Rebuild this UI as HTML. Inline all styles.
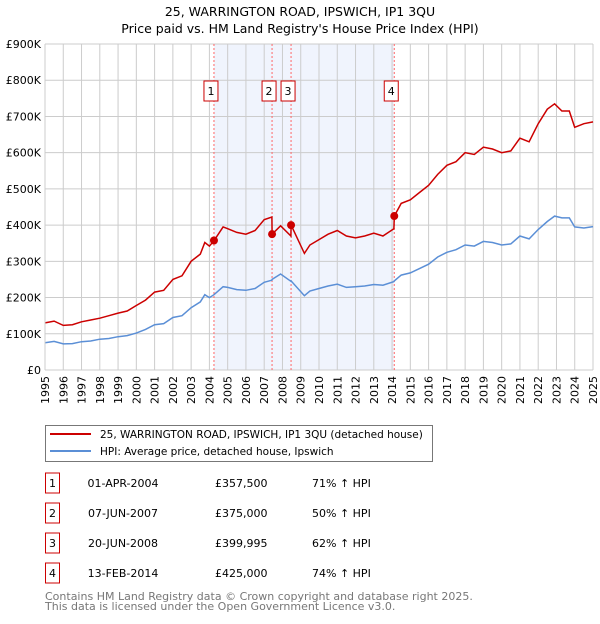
<!DOCTYPE html>
<html><head><meta charset="utf-8"><style>
body{margin:0;background:#fff;font-family:"DejaVu Sans","Liberation Sans",sans-serif;}
svg text{font-family:"DejaVu Sans","Liberation Sans",sans-serif;}
</style></head><body>
<svg id="chart" width="600" height="620" viewBox="0 0 600 620" xmlns="http://www.w3.org/2000/svg">
<text x="300" y="16" text-anchor="middle" font-size="12.5">25, WARRINGTON ROAD, IPSWICH, IP1 3QU</text>
<text x="300" y="33" text-anchor="middle" font-size="12.5">Price paid vs. HM Land Registry's House Price Index (HPI)</text>
<g id="plot"></g>
<g>
<rect x="45.5" y="425.5" width="387" height="36" fill="#fff" stroke="#777"/>
<line x1="50" y1="434" x2="91" y2="434" stroke="#cc0000" stroke-width="2"/>
<text x="100" y="438" font-size="10.5">25, WARRINGTON ROAD, IPSWICH, IP1 3QU (detached house)</text>
<line x1="50" y1="451" x2="91" y2="451" stroke="#5b8fd6" stroke-width="2"/>
<text x="100" y="455" font-size="10.5">HPI: Average price, detached house, Ipswich</text>
</g>
<g id="table"></g>
<text x="45" y="600" font-size="11" fill="#777">Contains HM Land Registry data © Crown copyright and database right 2025.</text>
<text x="45" y="610" font-size="11" fill="#777">This data is licensed under the Open Government Licence v3.0.</text>
</svg>
<script>
const times=[1995,1995.5,1996,1996.5,1997,1997.5,1998,1998.5,1999,1999.5,2000,2000.5,2001,2001.5,2002,2002.5,2003,2003.5,2003.75,2004,2004.25,2004.75,2005,2005.5,2006,2006.5,2007,2007.42,2007.43,2007.9,2008.46,2008.47,2009.2,2009.5,2010,2010.5,2011,2011.5,2012,2012.5,2013,2013.5,2014.1,2014.12,2014.5,2015,2015.5,2016,2016.5,2017,2017.5,2018,2018.5,2019,2019.5,2020,2020.5,2021,2021.5,2022,2022.5,2022.9,2023.3,2023.7,2024,2024.5,2025];
const redValues=[130,135,123,125,133,138,143,150,157,163,178,193,215,220,250,260,300,320,352,342,357,395,390,380,375,385,415,422,375,398,370,400,322,345,360,375,385,370,365,370,378,370,390,425,460,470,490,510,540,565,575,600,595,615,610,600,605,640,630,680,720,735,715,715,670,680,685];
const hpiValues=[75,79,72,73,78,80,85,87,92,95,102,112,125,128,145,150,172,188,208,200,208,230,228,222,220,225,242,248,250,265,245,246,205,218,225,232,237,228,230,232,236,234,244,246,262,268,280,292,312,325,332,345,342,355,352,345,348,370,362,388,410,425,420,420,395,392,396];
const yTicks=[0,100,200,300,400,500,600,700,800,900];
const yTickLabels=["£0","£100K","£200K","£300K","£400K","£500K","£600K","£700K","£800K","£900K"];
const saleNums=["1","2","3","4"];
const saleTimes=[2004.25,2007.43,2008.47,2014.12];
const salePrices=[357.5,375,399.995,425];
const saleDates=["01-APR-2004","07-JUN-2007","20-JUN-2008","13-FEB-2014"];
const salePriceLabels=["£357,500","£375,000","£399,995","£425,000"];
const salePct=["71% ↑ HPI","50% ↑ HPI","62% ↑ HPI","74% ↑ HPI"];

const NS="http://www.w3.org/2000/svg";
const X0=45,X1=593,Y0=370,Y1=44;
const xs=t=>X0+(t-1995)/(2025-1995)*(X1-X0);
const ys=v=>Y0-v/900*(Y0-Y1);
const plot=document.getElementById('plot');
function mk(tag,attrs,parent){const e=document.createElementNS(NS,tag);for(const k in attrs)e.setAttribute(k,attrs[k]);(parent||plot).appendChild(e);return e;}

const sh=mk('rect',{x:xs(saleTimes[0]),y:Y1,width:xs(saleTimes[3])-xs(saleTimes[0]),height:Y0-Y1,fill:'#f0f4fd'});


for(let y=1995;y<=2025;y++){
 const l=mk('line',{x1:xs(y),x2:xs(y),y1:Y1,y2:Y0,stroke:'#cccccc','stroke-width':1});
 
 
 const t=mk('text',{x:0,y:0,'font-size':11,'text-anchor':'end',transform:`translate(${xs(y)+4},${Y0+6}) rotate(-90)`});
 t.textContent=y;
 
 
}
yTicks.forEach((v,i)=>{
 const l=mk('line',{x1:X0,x2:X1,y1:ys(v),y2:ys(v),stroke:'#cccccc','stroke-width':1});
 
 
 const t=mk('text',{x:X0-4,y:ys(v)+4,'font-size':11,'text-anchor':'end'});
 t.textContent=yTickLabels[i];
 
 
});
saleTimes.forEach((t,i)=>{
 const l=mk('line',{x1:xs(t),x2:xs(t),y1:Y1,y2:Y0,stroke:'#ff6666','stroke-width':1,'stroke-dasharray':'2,2'});
 
 
});
const pts=a=>times.map((t,i)=>xs(t).toFixed(1)+','+ys(a[i]).toFixed(1)).join(' ');
const hp=mk('polyline',{points:pts(hpiValues),fill:'none',stroke:'#5b8fd6','stroke-width':1.5});


const rp=mk('polyline',{points:pts(redValues),fill:'none',stroke:'#cc0000','stroke-width':1.5});


saleTimes.forEach((t,i)=>{
 const c=mk('circle',{cx:xs(t),cy:ys(salePrices[i]),r:4,fill:'#cc0000'});
 
 
 const g=mk('g',{});
 
 
 const lx=xs(t)-3;
 mk('rect',{x:lx-7,y:81,width:14,height:20,fill:'#fff',stroke:'#cc0000'},g);
 const tx=mk('text',{x:lx,y:95,'font-size':11,'text-anchor':'middle'},g);tx.textContent=saleNums[i];
});
mk('line',{x1:X0,x2:X0,y1:Y1,y2:Y0,stroke:'#cccccc'});
const table=document.getElementById('table');
saleNums.forEach((n,i)=>{
 const cy=483+i*30;
 const g=mk('g',{},table);
 
 
 mk('rect',{x:45.5,y:cy-10,width:14,height:20,fill:'#fff',stroke:'#cc0000'},g);
 const a=mk('text',{x:52.5,y:cy+4,'font-size':11,'text-anchor':'middle'},g);a.textContent=n;
 const b=mk('text',{x:123,y:cy+4,'font-size':11,'text-anchor':'middle'},g);b.textContent=saleDates[i];
 const c=mk('text',{x:215,y:cy+4,'font-size':11},g);c.textContent=salePriceLabels[i];
 const d=mk('text',{x:312,y:cy+4,'font-size':11},g);d.textContent=salePct[i];
});
</script>
</body></html>
